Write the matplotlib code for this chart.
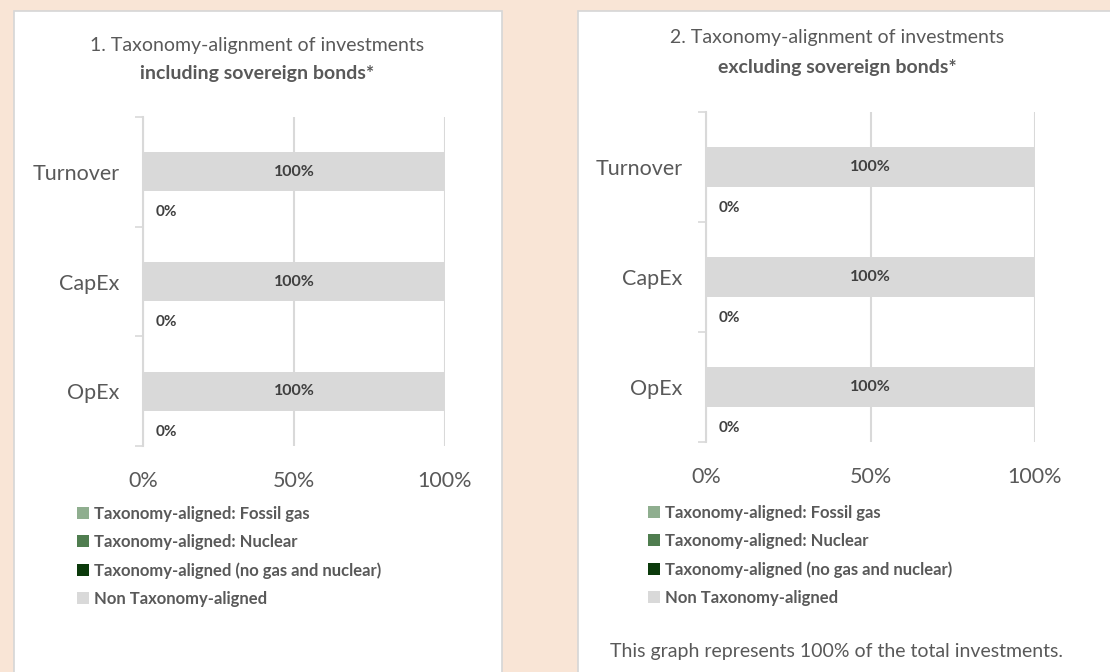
import matplotlib.pyplot as plt
from matplotlib.patches import Rectangle, Patch

plt.rcParams['font.family'] = ['Lato', 'DejaVu Sans']

categories = ['Turnover', 'CapEx', 'OpEx']

# panel 1: including sovereign bonds
incl_fossil_gas = [0, 0, 0]
incl_nuclear = [0, 0, 0]
incl_aligned_other = [0, 0, 0]
incl_non_aligned = [100, 100, 100]

# panel 2: excluding sovereign bonds
excl_fossil_gas = [0, 0, 0]
excl_nuclear = [0, 0, 0]
excl_aligned_other = [0, 0, 0]
excl_non_aligned = [100, 100, 100]

x_ticks = [0, 50, 100]
x_ticklabels = ['0%', '50%', '100%']

series_names = ['Taxonomy-aligned: Fossil gas', 'Taxonomy-aligned: Nuclear',
                'Taxonomy-aligned (no gas and nuclear)', 'Non Taxonomy-aligned']
series_colors = ['#8fae8f', '#4f7d4f', '#0b3a0b', '#d9d9d9']

bg = '#f9e5d6'
grid_c = '#d9d9d9'
txt_c = '#595959'

fig = plt.figure(figsize=(11.1, 6.72), dpi=100, facecolor=bg)
W, H = 1110, 672


def fx(px):
    return px / W


def fy(py):
    return 1 - py / H


# white panels
fig.patches.append(Rectangle((fx(14), fy(680)), fx(502) - fx(14), fy(11) - fy(680),
                             transform=fig.transFigure, facecolor='white',
                             edgecolor='#d6d6d6', lw=1.2, zorder=-5))
fig.patches.append(Rectangle((fx(578), fy(680)), fx(1120) - fx(578), fy(11) - fy(680),
                             transform=fig.transFigure, facecolor='white',
                             edgecolor='#d6d6d6', lw=1.2, zorder=-5))


def draw_panel(ax, gas, nuc, other, non):
    pos = list(range(len(categories)))
    h = 0.355
    off = 0.37
    ax.barh(pos, non, height=h, color=series_colors[3], zorder=2)
    low = [p + off for p in pos]
    ax.barh(low, gas, height=h, color=series_colors[0], zorder=2)
    ax.barh(low, nuc, left=gas, height=h, color=series_colors[1], zorder=2)
    left2 = [a + b for a, b in zip(gas, nuc)]
    ax.barh(low, other, left=left2, height=h, color=series_colors[2], zorder=2)

    for p, v in zip(pos, non):
        ax.text(v / 2, p, f'{v:.0f}%', ha='center', va='center',
                fontsize=11.5, fontweight='bold', color='#404040', zorder=3)
    for p, a, b, c in zip(low, gas, nuc, other):
        ax.annotate(f'{a + b + c:.0f}%', (a + b + c, p), xytext=(9, 0),
                    textcoords='offset points', ha='left', va='center',
                    fontsize=11, fontweight='bold', color='#404040', zorder=3)

    ax.set_xlim(0, 100)
    ax.set_ylim(len(categories) - 0.5, -0.5)
    ax.set_xticks(x_ticks)
    ax.set_xticklabels(x_ticklabels)
    ax.set_yticks(pos)
    ax.set_yticklabels(categories)
    ax.set_yticks([p - 0.5 for p in pos] + [len(pos) - 0.5], minor=True)
    ax.tick_params(axis='y', which='major', length=0, pad=17, labelsize=15.5, labelcolor=txt_c)
    ax.tick_params(axis='y', which='minor', length=6, width=1.2, color=grid_c, direction='out')
    ax.tick_params(axis='x', length=0, pad=18, labelsize=15.5, labelcolor=txt_c)
    for s in ['top', 'right', 'bottom']:
        ax.spines[s].set_visible(False)
    ax.spines['left'].set_color(grid_c)
    ax.spines['left'].set_linewidth(1.5)
    ax.xaxis.grid(True, color=grid_c, lw=1.5, zorder=1)
    ax.set_axisbelow(True)
    ax.set_facecolor('none')


ax1 = fig.add_axes([fx(143), fy(446), fx(445) - fx(143), fy(117) - fy(446)])
draw_panel(ax1, incl_fossil_gas, incl_nuclear, incl_aligned_other, incl_non_aligned)
ax2 = fig.add_axes([fx(706), fy(442), fx(1035) - fx(706), fy(112) - fy(442)])
draw_panel(ax2, excl_fossil_gas, excl_nuclear, excl_aligned_other, excl_non_aligned)

# titles
fig.text(fx(257), fy(46), '1. Taxonomy-alignment of investments', ha='center', va='center',
         fontsize=14, color=txt_c)
fig.text(fx(257), fy(74), 'including sovereign bonds*', ha='center', va='center',
         fontsize=14, fontweight='bold', color=txt_c)
fig.text(fx(837), fy(38), '2. Taxonomy-alignment of investments', ha='center', va='center',
         fontsize=14, color=txt_c)
fig.text(fx(837), fy(67), 'excluding sovereign bonds*', ha='center', va='center',
         fontsize=14, fontweight='bold', color=txt_c)

handles = [Patch(facecolor=c, edgecolor='none') for c in series_colors]
for x0, y0 in [(77, 506), (648, 505)]:
    leg = fig.legend(handles, series_names, loc='upper left',
                     bbox_to_anchor=(fx(x0), fy(y0)), frameon=False,
                     handlelength=0.7, handleheight=0.7, handletextpad=0.3,
                     labelspacing=0.72, borderpad=0, borderaxespad=0,
                     prop={'size': 12, 'weight': 'bold'})
    for t in leg.get_texts():
        t.set_color(txt_c)

fig.text(fx(837), fy(651), 'This graph represents 100% of the total investments.',
         ha='center', va='center', fontsize=14, color=txt_c)

fig.savefig('out.png', dpi=100, facecolor=bg)
